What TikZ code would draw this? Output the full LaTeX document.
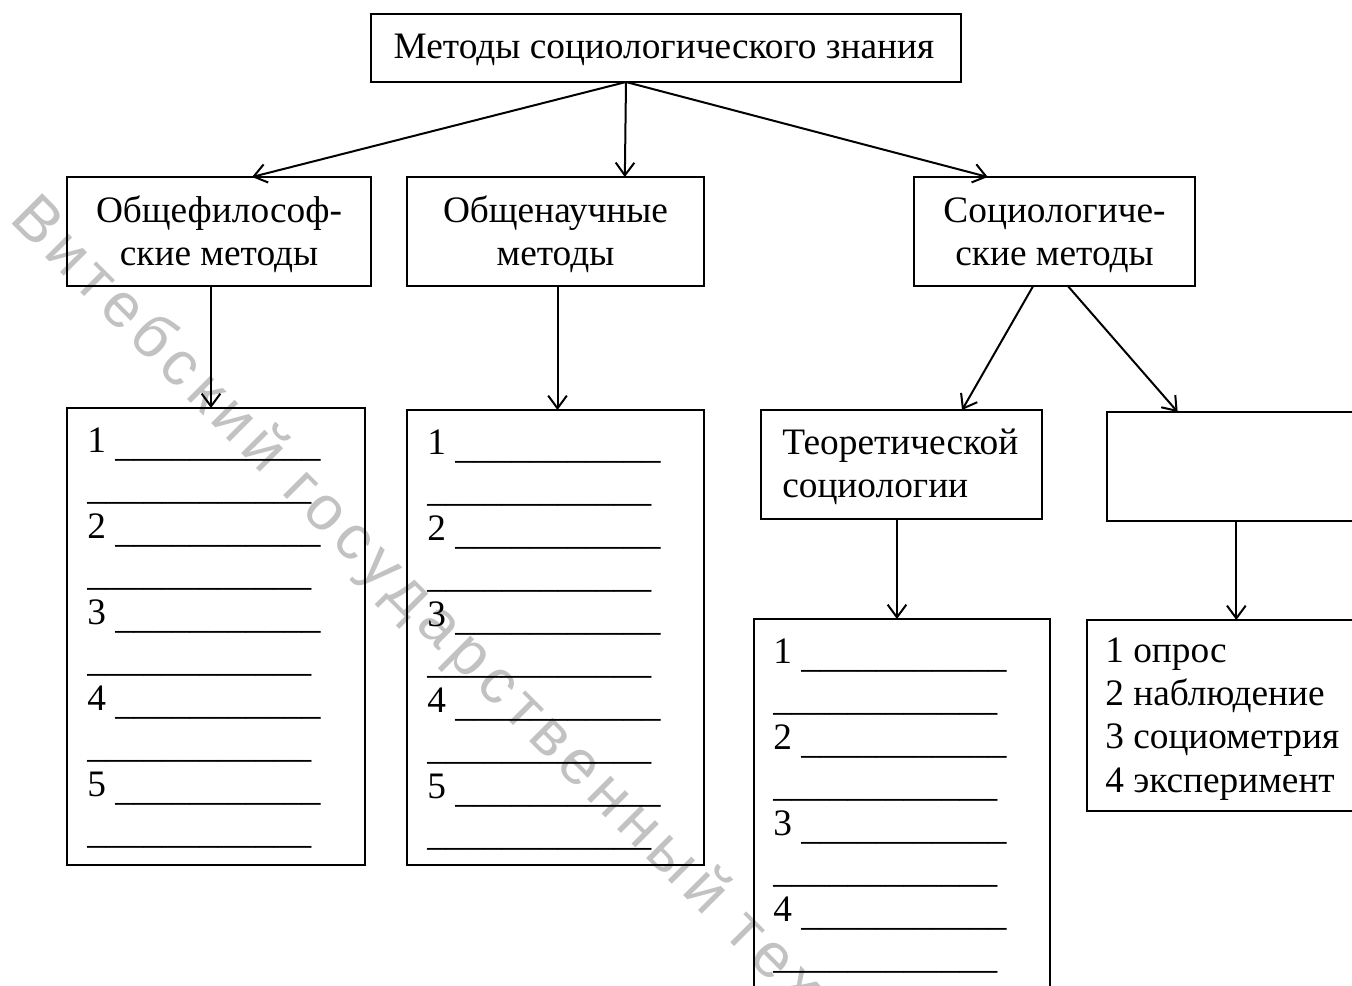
\documentclass[tikz,border=0pt]{standalone}
\usepackage{fontspec}
\setmainfont{Liberation Serif}
\newfontfamily\wmfont[LetterSpace=11.5]{Liberation Sans}
\usetikzlibrary{arrows.meta,calc}
\def\blankA{\raisebox{-3pt}{\_\_\_\_\_\_\_\_\_\_\_}}
\def\blankB{\raisebox{-3pt}{\_\_\_\_\_\_\_\_\_\_\_\_}}
\begin{document}
\begin{tikzpicture}[x=0.75pt,y=-0.75pt,
  box/.style={draw, line width=1pt, inner sep=0pt, outer sep=0pt, anchor=north west},
  arr/.style={line width=1.5pt, -{Straight Barb[length=9.5pt,width=14pt]}},
  lbl/.style={font=\fontsize{28}{32}\selectfont, inner sep=0pt, anchor=base},
  row/.style={font=\fontsize{28}{32}\selectfont, inner sep=0pt, anchor=base west},
  wm/.style={font=\wmfont\fontsize{47}{48}\selectfont, text=black!24, inner sep=0pt, anchor=base west, rotate=-45}
]
\useasboundingbox (0,0) rectangle (1352,985);
\clip (0,0) rectangle (1352,985);

% watermark
\node[wm] (wm) at (8,220) {Витебский государственный технологический};

% boxes
\node[box, minimum width=442.5pt, minimum height=51pt] (top) at (371,14) {};
\node[box, minimum width=228pt, minimum height=81.75pt] (A) at (67,177) {};
\node[box, minimum width=222.75pt, minimum height=81.75pt] (B) at (407,177) {};
\node[box, minimum width=210.75pt, minimum height=81.75pt] (C) at (914,177) {};
\node[box, minimum width=223.5pt, minimum height=342.75pt] (LA) at (67,408) {};
\node[box, minimum width=222.75pt, minimum height=341.25pt] (LB) at (407,410) {};
\node[box, minimum width=210.75pt, minimum height=81.75pt] (T) at (761,410) {};
\node[box, minimum width=210pt, minimum height=81.75pt] (E) at (1107,412) {};
\node[box, minimum width=222pt, minimum height=330pt] (LT) at (754,619) {};
\node[box, minimum width=215pt, minimum height=143.25pt] (O) at (1087,620) {};

% texts
\node[lbl] (ttop) at (664,58) {Методы социологического знания};
\node[lbl] (tA1) at (219,222) {Общефилософ-};
\node[lbl] (tA2) at (219,265) {ские методы};
\node[lbl] (tB1) at (555.5,222) {Общенаучные};
\node[lbl] (tB2) at (555.5,265) {методы};
\node[lbl] (tC1) at (1054.5,222) {Социологиче-};
\node[lbl] (tC2) at (1054.5,265) {ские методы};
\node[row] (tT1) at (782,454) {Теоретической};
\node[row] (tT2) at (782,497) {социологии};

\foreach \k in {0,...,4}{
  \pgfmathtruncatemacro{\n}{\k+1}
  \node[row] (la\k) at (87,{452+86*\k}) {\n\ \blankA};
  \node[row] (lb\k) at (87,{495+86*\k}) {\blankB};
  \node[row] (ma\k) at (427,{454+86*\k}) {\n\ \blankA};
  \node[row] (mb\k) at (427,{497+86*\k}) {\blankB};
}
\foreach \k in {0,...,3}{
  \pgfmathtruncatemacro{\n}{\k+1}
  \node[row] (ta\k) at (773,{663+86*\k}) {\n\ \blankA};
  \node[row] (tb\k) at (773,{706+86*\k}) {\blankB};
}
\node[row] (o1) at (1105,662) {1 опрос};
\node[row] (o2) at (1105,705) {2 наблюдение};
\node[row] (o3) at (1105,748) {3 социометрия};
\node[row] (o4) at (1105,792) {4 эксперимент};

% connectors
\coordinate (src) at ([xshift=-30pt]top.south);
\draw[arr] (src) -- ([xshift=24.75pt]A.north);
\draw[arr] (src) -- ([xshift=52pt]B.north);
\draw[arr] (src) -- ([xshift=-50pt]C.north);
\draw[arr] ([xshift=-6pt]A.south) -- ([xshift=-6pt]A.south |- LA.north);
\draw[arr] ([xshift=1.5pt]B.south) -- ([xshift=1.5pt]B.south |- LB.north);
\draw[arr] ([xshift=-16pt]C.south) -- ([xshift=45.4pt]T.north);
\draw[arr] ([xshift=10pt]C.south) -- ([xshift=53pt]E.north west);
\draw[arr] ([xshift=-3.4pt]T.south) -- ([xshift=-3.4pt]T.south |- LT.north);
\draw[arr] ([xshift=97pt]E.south west) -- ([xshift=97pt]E.south west |- O.north);
\end{tikzpicture}
\end{document}
